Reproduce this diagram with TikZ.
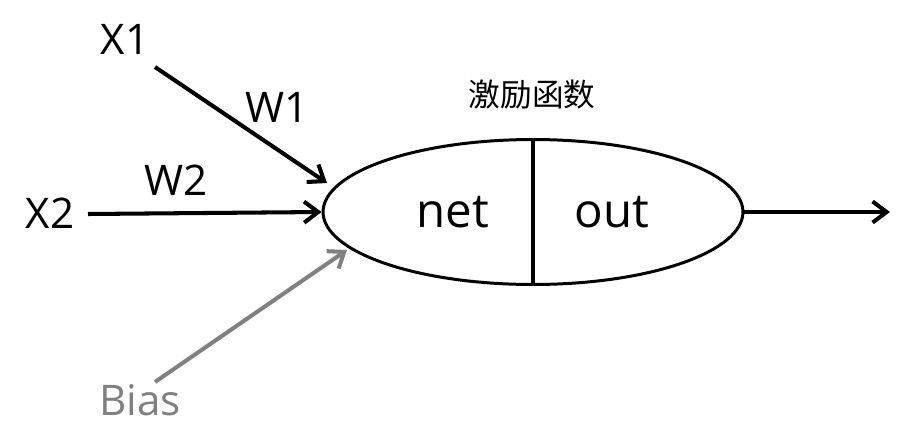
\documentclass[tikz,border=0pt]{standalone}
\usepackage{fontspec}
\setmainfont{Open Sans}
\newfontfamily\cjk{Noto Sans CJK SC}
\usetikzlibrary{arrows.meta,shapes.geometric}

\tikzset{
  wire/.style={line width=2.3pt,-{Straight Barb[length=8pt,width=12pt,line width=2.3pt]}},
  biaswire/.style={wire,gray},
  lbl/.style={font=\fontsize{24}{24}\selectfont,inner sep=0pt},
  cell/.style={font=\fontsize{27}{27}\selectfont,inner sep=0pt},
}

\begin{document}
\begin{tikzpicture}[x=0.02cm,y=-0.02cm]
\useasboundingbox (0,0) rectangle (917,440);
% neuron body
\node[draw,ellipse,line width=1.7pt,minimum width=8.4cm,minimum height=2.9cm,inner sep=0pt] (neuron) at (533,212) {};
\draw[line width=2.3pt] (neuron.north) -- (neuron.south);
\node[cell] (net) at (453,212) {net};
\node[cell] (out) at (612,212) {out};
\node[font=\cjk\fontsize{18}{18}\selectfont,inner sep=0pt] (act) at (532,95) {激励函数};

% inputs
\node[lbl] (x1) at (125,39) {X1};
\node[lbl] (x2) at (50,213) {X2};
\node[lbl] (w1) at (277,107) {W1};
\node[lbl] (w2) at (176,180) {W2};
\node[lbl,gray] (bias) at (140,400) {Bias};

\coordinate (x1s) at (155,67);
\coordinate (x1t) at (327,183);
\coordinate (x2s) at (88,214);
\coordinate (bs) at (155,382);
\coordinate (bt) at (347,250);
\coordinate (outt) at (890,212);

\draw[wire] (x1s) -- (x1t);
\draw[wire] (x2s) -- (neuron.west);
\draw[biaswire] (bs) -- (bt);
\draw[wire] (neuron.east) -- (outt);
\end{tikzpicture}
\end{document}
